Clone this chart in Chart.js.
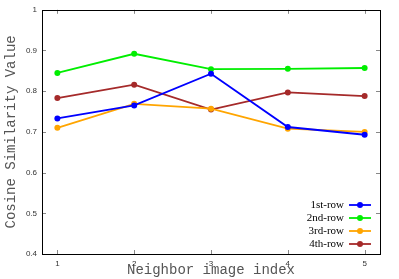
<!DOCTYPE html>
<html><head><meta charset="utf-8">
<script src="https://cdn.jsdelivr.net/npm/chart.js@4/dist/chart.umd.min.js"></script>
<style>html,body{margin:0;padding:0;background:#fff}#w{width:399px;height:279px}</style>
</head><body><div id="w"><canvas id="c" width="399" height="279"></canvas></div>
<script>
const categories = [1, 2, 3, 4, 5];
const row1 = [0.733, 0.765, 0.843, 0.712, 0.693];
const row2 = [0.845, 0.892, 0.854, 0.855, 0.857];
const row3 = [0.710, 0.769, 0.757, 0.708, 0.700];
const row4 = [0.783, 0.816, 0.755, 0.797, 0.788];
const seriesLabels = ['1st-row', '2nd-row', '3rd-row', '4th-row'];
const seriesColors = ['#0000ff', '#00ee00', '#ffa500', '#a52a2a'];
const yTicks = [0.4, 0.5, 0.6, 0.7, 0.8, 0.9, 1];

const series = [row1, row2, row3, row4];
const datasets = series.map((s, i) => ({
  label: seriesLabels[i],
  data: s.map((v, j) => ({x: categories[j], y: v})),
  borderColor: seriesColors[i],
  backgroundColor: seriesColors[i],
  borderWidth: 1.8,
  pointRadius: 3,
  pointBorderWidth: 0,
  tension: 0
}));

const framePlugin = {
  id: 'frame',
  afterDraw(chart) {
    const ctx = chart.ctx, a = chart.chartArea;
    const xs = chart.scales.x, ys = chart.scales.y;
    ctx.save();
    ctx.strokeStyle = '#888';
    ctx.lineWidth = 1;
    const tl = 4;
    categories.forEach(c => {
      const px = Math.round(xs.getPixelForValue(c)) + 0.5;
      ctx.beginPath();
      ctx.moveTo(px, a.bottom); ctx.lineTo(px, a.bottom - tl);
      ctx.moveTo(px, a.top); ctx.lineTo(px, a.top + tl);
      ctx.stroke();
    });
    yTicks.forEach(v => {
      const py = Math.round(ys.getPixelForValue(v)) + 0.5;
      ctx.beginPath();
      ctx.moveTo(a.left, py); ctx.lineTo(a.left + tl, py);
      ctx.moveTo(a.right, py); ctx.lineTo(a.right - tl, py);
      ctx.stroke();
    });
    ctx.strokeStyle = '#000';
    ctx.lineWidth = 1;
    ctx.strokeRect(Math.round(a.left) + 0.5, Math.round(a.top) + 0.5, Math.round(a.right - a.left), Math.round(a.bottom - a.top));
    // legend
    ctx.font = '11px "Liberation Serif", serif';
    ctx.textAlign = 'right';
    ctx.textBaseline = 'middle';
    const rowY = [205, 218, 231, 244];
    chart.data.datasets.forEach((d, i) => {
      const y = rowY[i];
      ctx.fillStyle = '#000';
      ctx.fillText(d.label, 344, y);
      ctx.strokeStyle = d.borderColor;
      ctx.lineWidth = 1.8;
      ctx.beginPath(); ctx.moveTo(349, y); ctx.lineTo(371, y); ctx.stroke();
      ctx.fillStyle = d.borderColor;
      ctx.beginPath(); ctx.arc(360, y, 3, 0, Math.PI * 2); ctx.fill();
    });
    ctx.restore();
  }
};

new Chart(document.getElementById('c'), {
  type: 'line',
  data: { datasets },
  options: {
    responsive: false,
    animation: false,
    layout: { padding: { top: 9, right: 19, left: 0, bottom: 0 } },
    plugins: { legend: { display: false }, tooltip: { enabled: false } },
    scales: {
      x: {
        type: 'linear', min: 0.8, max: 5.2,
        afterFit: s => { s.height = 25; },
        afterBuildTicks: s => { s.ticks = categories.map(v => ({value: v})); },
        grid: { display: false, drawTicks: false },
        border: { display: false },
        ticks: { color: '#333', font: { size: 8, family: '"Liberation Sans", sans-serif' }, padding: 5, maxRotation: 0 },
        title: { display: true, text: 'Neighbor image index', color: '#555', font: { size: 14, family: '"Liberation Mono", monospace' }, padding: { top: 0, bottom: 0 } }
      },
      y: {
        min: 0.4, max: 1,
        afterFit: s => { s.width = 42; },
        afterBuildTicks: s => { s.ticks = yTicks.map(v => ({value: v})); },
        grid: { display: false, drawTicks: false },
        border: { display: false },
        ticks: { color: '#333', font: { size: 8, family: '"Liberation Sans", sans-serif' }, padding: 5, callback: v => String(v) },
        title: { display: true, text: 'Cosine Similarity Value', color: '#555', font: { size: 14, family: '"Liberation Mono", monospace' }, padding: { top: 3, bottom: 0 } }
      }
    }
  },
  plugins: [framePlugin]
});
</script></body></html>
